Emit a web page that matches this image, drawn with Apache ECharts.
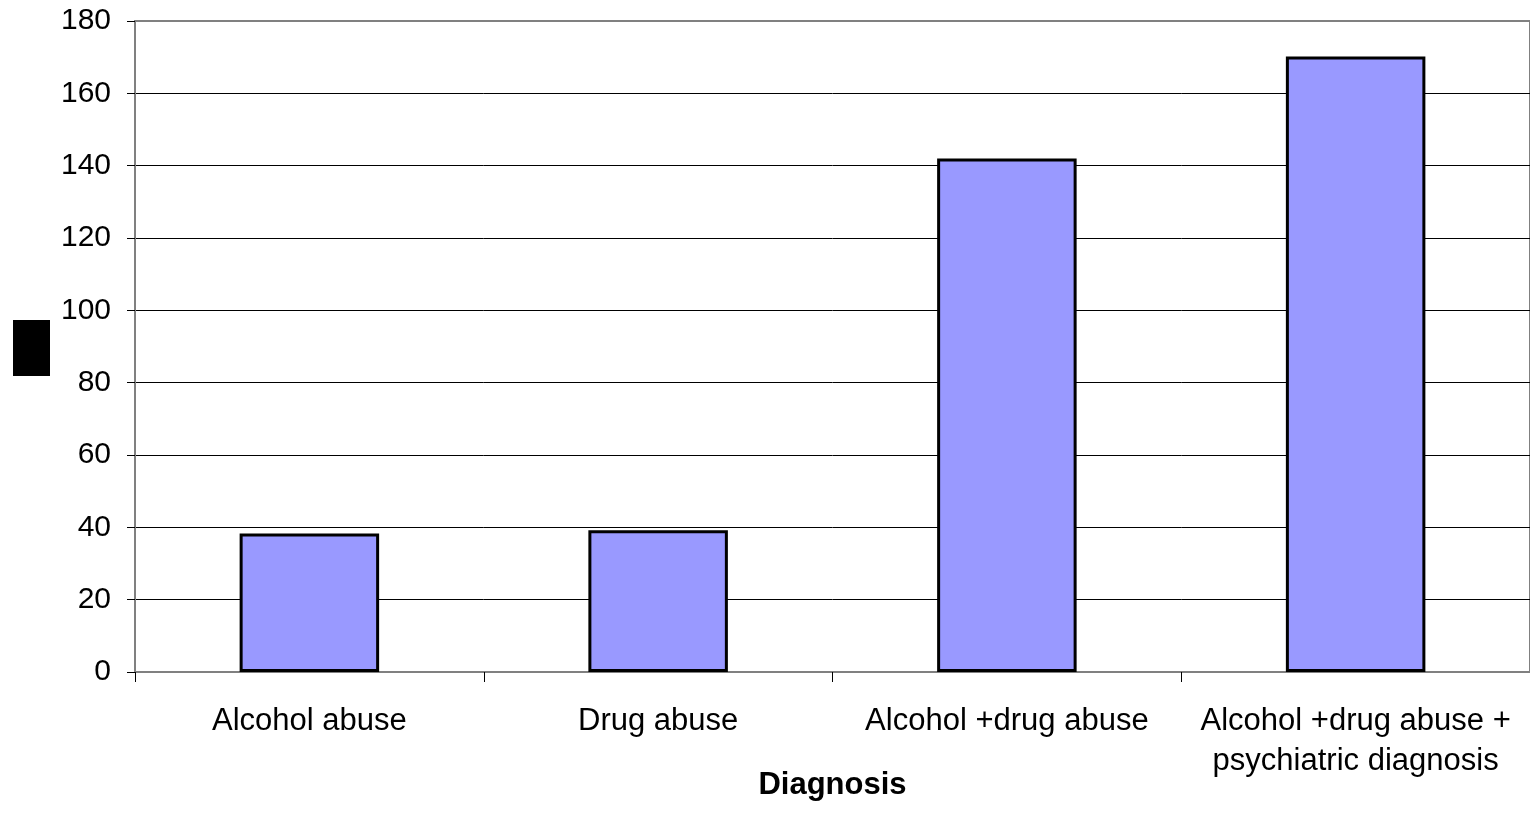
<!DOCTYPE html>
<html>
<head>
<meta charset="utf-8">
<script src="https://cdn.jsdelivr.net/npm/echarts@6/dist/echarts.min.js"></script>
<style>html,body{margin:0;padding:0;background:#fff}#chart{width:1530px;height:832px}</style>
</head>
<body>
<div id="chart"></div>
<script>
const categories = ['Alcohol abuse', 'Drug abuse', 'Alcohol +drug abuse', 'Alcohol +drug abuse +\npsychiatric diagnosis'];
const values = [38.3, 39.2, 142, 170.2];
const xAxisTitle = 'Diagnosis';
const yMin = 0, yMax = 180, yInterval = 20;

const chart = echarts.init(document.getElementById('chart'));
const font = 'Liberation Sans, Arial, sans-serif';
chart.setOption({
  animation: false,
  backgroundColor: '#fff',
  grid: { left: 135, right: 0, top: 21, bottom: 160, show: true, borderColor: '#808080', borderWidth: 2, backgroundColor: 'transparent' },
  xAxis: {
    type: 'category',
    data: categories,
    name: xAxisTitle,
    nameLocation: 'middle',
    nameGap: 98,
    nameMoveOverlap: false,
    nameTextStyle: { fontFamily: font, fontWeight: 'bold', fontSize: 31, color: '#000' },
    axisLine: { lineStyle: { color: '#808080', width: 2 } },
    axisTick: { show: true, alignWithLabel: false, length: 10, lineStyle: { color: '#000', width: 1 } },
    axisLabel: { fontFamily: font, fontSize: 31, color: '#000', margin: 29, lineHeight: 40, interval: 0 }
  },
  yAxis: {
    type: 'value',
    min: yMin, max: yMax, interval: yInterval,
    axisLine: { show: true, lineStyle: { color: '#808080', width: 2 } },
    axisTick: { show: true, length: 8, lineStyle: { color: '#000', width: 1 } },
    axisLabel: { fontFamily: font, fontSize: 30, color: '#000', margin: 24 },
    splitLine: { lineStyle: { color: ['#000','#000','#000','#000','#000','#000','#000','#000','#000','#808080'], width: 1 } }
  },
  graphic: [{ type: 'rect', left: 13, top: 320, shape: { width: 37, height: 56 }, style: { fill: '#000' } }],
  series: [{
    type: 'bar',
    data: values,
    barWidth: '40%',
    itemStyle: { color: '#9999FF', borderColor: '#000', borderWidth: 3 }
  }]
});
</script>
</body>
</html>
